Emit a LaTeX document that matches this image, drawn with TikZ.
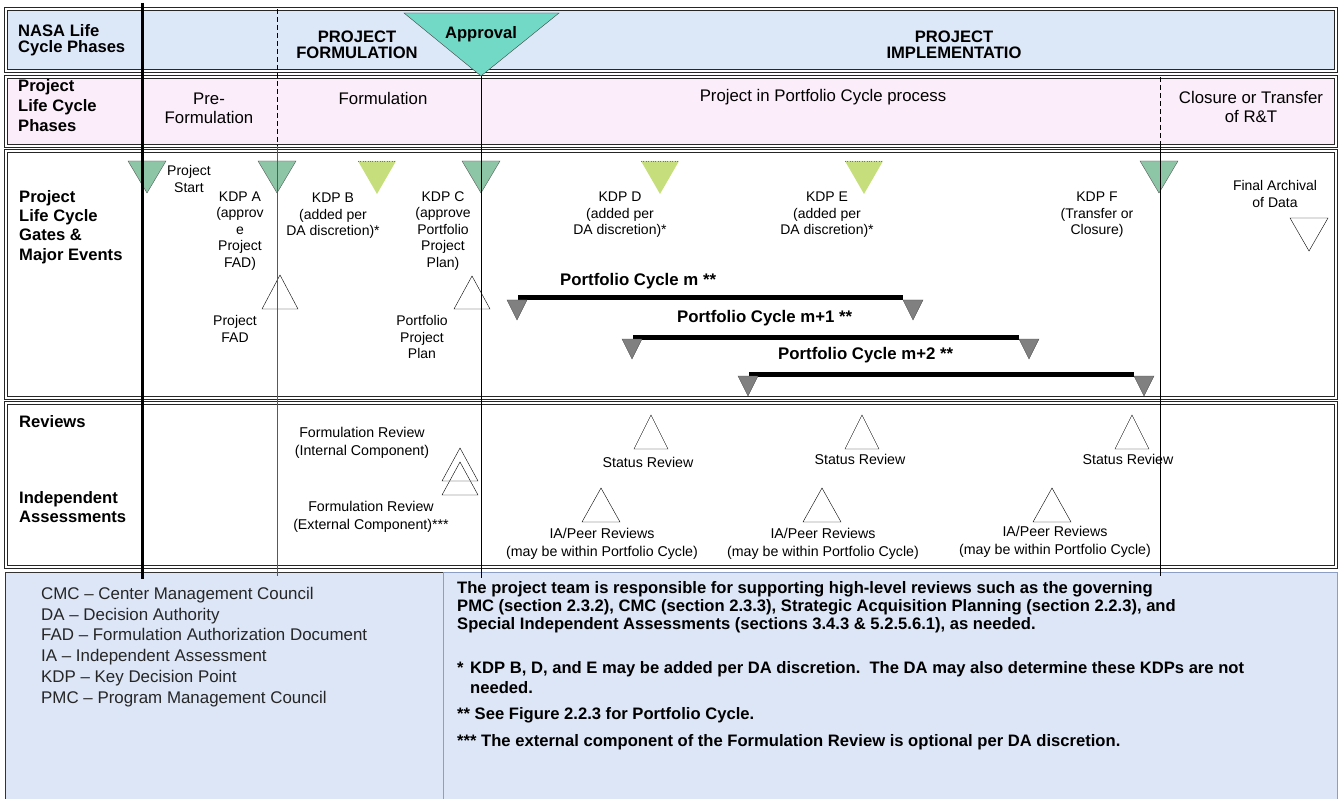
\documentclass[tikz,border=0pt]{standalone}
\usepackage{fontspec}
\setmainfont{Liberation Sans}
\usepackage{tikz}

\definecolor{rowblue}{HTML}{DCE7F8}
\definecolor{rowpink}{HTML}{FCEDFA}
\definecolor{apprteal}{HTML}{72D9C6}
\definecolor{gategreen}{HTML}{8CC6A6}
\definecolor{optgreen}{HTML}{C6DF7C}
\definecolor{legendblue}{HTML}{DCE6F6}
\definecolor{legendline}{HTML}{8C9EC4}

\begin{document}
\begin{tikzpicture}[x=1pt, y=-1pt,
    rowbox/.style={draw=black!85, line width=0.7pt, double, double distance=1.8pt},
    hd/.style={font=\fontsize{16.6}{16.5}\selectfont\bfseries, inner sep=0pt},
    ph/.style={font=\fontsize{16.8}{19}\selectfont, align=center, inner sep=0pt},
    sm/.style={font=\fontsize{14}{16.5}\selectfont, align=center, inner sep=0pt},
    rv/.style={font=\fontsize{14.2}{18.5}\selectfont, align=center, inner sep=0pt},
    cyc/.style={font=\fontsize{16.8}{16}\selectfont\bfseries, inner sep=0pt, anchor=west},
    note/.style={font=\fontsize{16.6}{17.8}\selectfont\bfseries, align=left, inner sep=0pt, anchor=west}]
    \useasboundingbox (0,0) rectangle (1340,799);

    % the four rows
    \draw[rowbox, fill=rowblue] (6,9) rectangle (1336,71);
    \draw[rowbox, fill=rowpink] (6,77) rectangle (1336,146);
    \draw[rowbox] (6,151) rectangle (1336,398);
    \draw[rowbox] (6,403) rectangle (1336,567);

    % legend boxes
    \draw[black!80, fill=legendblue] (5,572) rectangle (443,803);
    \draw[legendline, fill=legendblue] (443,572) rectangle (1337,803);

    % row titles
    \node[hd, align=left, anchor=west] (nasa) at (18,40) {NASA Life\\Cycle Phases};
    \node[hd, align=left, anchor=west, font=\fontsize{16.6}{20}\selectfont\bfseries] (plcp) at (18,106) {Project\\Life Cycle\\Phases};
    \node[hd, align=left, anchor=west, font=\fontsize{16.6}{19.3}\selectfont\bfseries] (gates) at (19,227) {Project\\Life Cycle\\Gates \&\\Major Events};
    \node[hd, anchor=west] (reviews) at (19,422) {Reviews};
    \node[hd, align=left, anchor=west, font=\fontsize{16.6}{19}\selectfont\bfseries] (indep) at (19,507) {Independent\\Assessments};

    % phases
    \node[hd, align=center] (pform) at (357,45) {PROJECT\\FORMULATION};
    \node[hd, align=center] (pimpl) at (954,45) {PROJECT\\IMPLEMENTATIO};
    \node[ph] (preform) at (209,108) {Pre-\\Formulation};
    \node[ph] (form) at (383,98) {Formulation};
    \node[ph] (portproc) at (823,97) {Project in Portfolio Cycle process};
    \node[ph] (closure) at (1251,107) {Closure or Transfer\\of R\&T};

    % approval
    \draw[black!75, fill=apprteal] (404,13) -- ++(155,0) -- (481,76) -- cycle;
    \node[hd] (approval) at (481,34) {Approval};

    % gates
    \foreach \x in {147,277,481,1159}
      \draw[black!65, fill=gategreen] (\x-19,161) -- ++(38,0) -- ++(-19,32) -- cycle;
    \foreach \x in {377,660,864} {
      \fill[optgreen] (\x-19,161) -- ++(38,0) -- ++(-19,33) -- cycle;
      \draw[black!55, dotted] (\x-19,161) -- ++(38,0);
    }
    \draw[fill=white] (262,309) -- ++(36,0) -- ++(-18,-34) -- cycle;
    \draw[fill=white] (454,309) -- ++(36,0) -- ++(-18,-33) -- cycle;
    \draw (1290,218) -- ++(38,0) -- ++(-19,33) -- cycle;

    \node[sm] (start) at (189,179) {Project\\Start};
    \node[sm] (kdpa) at (240,231) {KDP A\\(approv\\e\\Project\\FAD)};
    \node[sm] (kdpb) at (333,216) {KDP B\\(added per\\DA discretion)*};
    \node[sm] (kdpc) at (443,231) {KDP C\\(approve\\Portfolio\\Project\\Plan)};
    \node[sm] (kdpd) at (620,215) {KDP D\\(added per\\DA discretion)*};
    \node[sm] (kdpe) at (827,215) {KDP E\\(added per\\DA discretion)*};
    \node[sm] (kdpf) at (1097,215) {KDP F\\(Transfer or\\Closure)};
    \node[sm] (archive) at (1275,194) {Final Archival\\of Data};
    \node[sm] (fad) at (235,329) {Project\\FAD};
    \node[sm] (plan) at (422,337) {Portfolio\\Project\\Plan};

    % portfolio cycles
    \foreach \a/\b/\y in {517/913/298, 632/1029/337, 748/1144/374} {
      \draw[line width=5pt] (\a+1,\y) -- (\b-10,\y);
      \draw[black!70, fill=black!50] (\a-10,\y+2) -- ++(20,0) -- ++(-10,20) -- cycle;
      \draw[black!70, fill=black!50] (\b-10,\y+2) -- ++(20,0) -- ++(-10,20) -- cycle;
    }
    \node[cyc] (cycm) at (560,281) {Portfolio Cycle m **};
    \node[cyc] (cycmi) at (677,318) {Portfolio Cycle m+1 **};
    \node[cyc] (cycmii) at (778,355) {Portfolio Cycle m+2 **};

    % reviews and assessments
    \draw (442,481) -- ++(36,0) -- ++(-18,-33) -- cycle;
    \draw (442,495) -- ++(36,0) -- ++(-18,-33) -- cycle;
    \foreach \x in {651,862,1132}
      \draw (\x-17,449) -- ++(34,0) -- ++(-17,-34) -- cycle;
    \foreach \x in {601,822,1052}
      \draw (\x-19,522) -- ++(38,0) -- ++(-19,-34) -- cycle;

    \node[rv] (frint) at (362,443) {Formulation Review\\(Internal Component)};
    \node[rv] (frext) at (371,517) {Formulation Review\\(External Component)***};
    \node[rv] (srone) at (648,462) {Status Review};
    \node[rv] (srtwo) at (860,459) {Status Review};
    \node[rv] (srthree) at (1128,459) {Status Review};
    \node[rv] (iaone) at (602,544) {IA/Peer Reviews\\(may be within Portfolio Cycle)};
    \node[rv] (iatwo) at (823,544) {IA/Peer Reviews\\(may be within Portfolio Cycle)};
    \node[rv] (iathree) at (1055,542) {IA/Peer Reviews\\(may be within Portfolio Cycle)};

    % phase boundaries
    \draw[line width=3pt] (142,3) -- (142,579);
    \draw[dash pattern=on 5pt off 3pt, line width=0.8pt] (277,9) -- (277,146);
    \draw[black!65, line width=0.8pt] (277,146) -- (277,576);
    \draw[line width=0.8pt] (481,76) -- (481,578);
    \draw[dash pattern=on 5pt off 3pt, line width=0.8pt] (1160,77) -- (1160,146);
    \draw[line width=0.8pt] (1160,146) -- (1160,576);

    % legend
    \node[font=\fontsize{16.9}{20.8}\selectfont, text=black!85, align=left, inner sep=0pt, anchor=west] (abbrev) at (41,647)
      {CMC -- Center Management Council\\DA -- Decision Authority\\FAD -- Formulation Authorization Document\\IA -- Independent Assessment\\KDP -- Key Decision Point\\PMC -- Program Management Council};
    \node[note] (resp) at (457,607) {The project team is responsible for supporting high-level reviews such as the governing\\PMC (section 2.3.2), CMC (section 2.3.3), Strategic Acquisition Planning (section 2.2.3), and\\Special Independent Assessments (sections 3.4.3 \& 5.2.5.6.1), as needed.};
    \node[note, font=\fontsize{16.6}{20}\selectfont\bfseries] (starone) at (457,678) {\makebox[13pt][l]{*}KDP B, D, and E may be added per DA discretion.\ \ The DA may also determine these KDPs are not\\\hspace*{13pt}needed.};
    \node[note] (startwo) at (457,715) {** See Figure 2.2.3 for Portfolio Cycle.};
    \node[note] (starthree) at (457,742) {*** The external component of the Formulation Review is optional per DA discretion.};

\end{tikzpicture}
\end{document}
